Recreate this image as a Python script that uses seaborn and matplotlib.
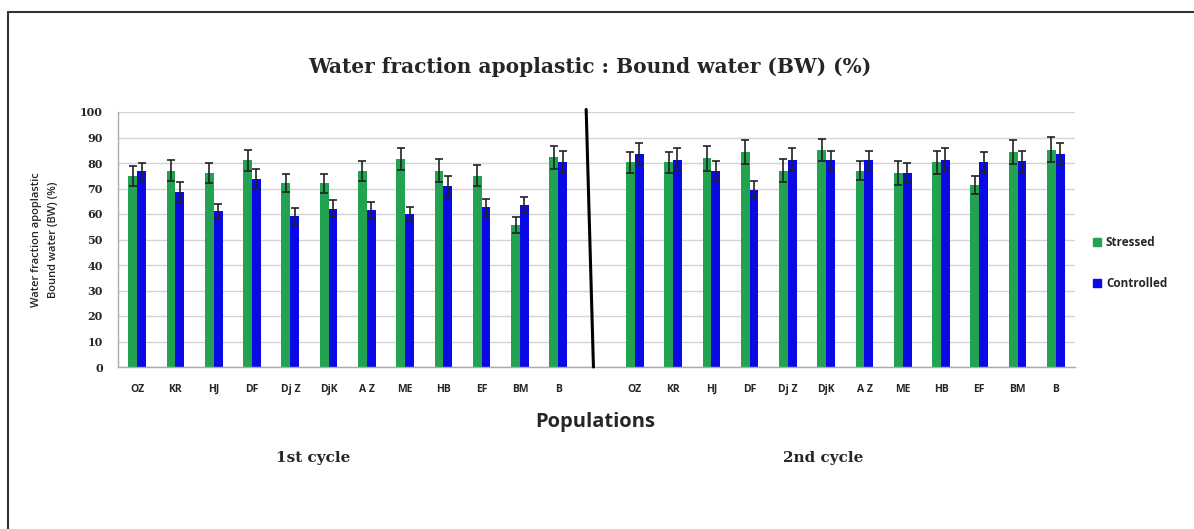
import numpy as np
import pandas as pd
import matplotlib
matplotlib.use("Agg")
import matplotlib.pyplot as plt
import seaborn as sns
from matplotlib.lines import Line2D

# ---------------- data ----------------
populations = ["OZ", "KR", "HJ", "DF", "Dj Z", "DjK", "A Z", "ME", "HB", "EF", "BM", "B"]
cycles = ["1st cycle", "2nd cycle"]
treatments = ["Stressed", "Controlled"]

stressed_c1 = [75, 77, 76, 81, 72.3, 72, 76.7, 81.5, 77, 75, 55.7, 82.3]
stressed_c1_err = [4, 4, 4, 4, 3.5, 3.8, 3.9, 4.2, 4.5, 4.2, 3, 4.5]
controlled_c1 = [76.7, 68.5, 61, 73.7, 59.2, 62, 61.6, 60, 71, 62.6, 63.4, 80.5]
controlled_c1_err = [3.3, 4, 3, 3.8, 3.1, 3.3, 3.3, 2.9, 4, 3.2, 3.2, 4.3]

stressed_c2 = [80.2, 80.2, 81.9, 84.5, 77, 85.2, 77, 76, 80.2, 71.4, 84.5, 85.2]
stressed_c2_err = [4.1, 4.1, 4.9, 4.7, 4.5, 4.3, 3.7, 4.7, 4.7, 3.6, 4.7, 5]
controlled_c2 = [83.6, 81.3, 77, 69.5, 81.3, 81, 81, 76, 81.3, 80.2, 80.7, 83.6]
controlled_c2_err = [4.4, 4.4, 3.7, 3.6, 4.4, 3.9, 3.9, 4, 4.4, 4.1, 4.2, 4.4]

title = "Water fraction apoplastic : Bound water (BW) (%)"
ylabel = "Water fraction apoplastic\nBound water (BW) (%)"
xlabel = "Populations"
yticks = list(range(0, 101, 10))

# ---------------- build table ----------------
gap_key = "gap"
keys1 = [f"c1_{p}" for p in populations]
keys2 = [f"c2_{p}" for p in populations]
order = keys1 + [gap_key] + keys2
tick_labels = populations + [""] + populations

rows = []
for k, s, se, c, ce in zip(keys1, stressed_c1, stressed_c1_err, controlled_c1, controlled_c1_err):
    rows.append((k, "Stressed", s, se))
    rows.append((k, "Controlled", c, ce))
for k, s, se, c, ce in zip(keys2, stressed_c2, stressed_c2_err, controlled_c2, controlled_c2_err):
    rows.append((k, "Stressed", s, se))
    rows.append((k, "Controlled", c, ce))
df = pd.DataFrame(rows, columns=["key", "treatment", "value", "err"])

# ---------------- plot ----------------
sns.set_theme(style="white")
plt.rcParams["font.family"] = ["DejaVu Sans"]

fig = plt.figure(figsize=(11.94, 5.29), dpi=100)
ax = fig.add_axes([118 / 1194, 1 - 367 / 529, (1075 - 118) / 1194, (367 - 112) / 529])

palette = {"Stressed": "#22a352", "Controlled": "#0a0ae6"}
sns.barplot(data=df, x="key", y="value", hue="treatment", order=order,
            hue_order=treatments, palette=palette, width=0.46, errorbar=None,
            saturation=1, ax=ax, legend=False, edgecolor="none")

# error bars positioned from the bar geometry
data_keys = [k for k in order if k != gap_key]
for i, t in enumerate(treatments):
    cont = ax.containers[i]
    sub = df[df.treatment == t].set_index("key")
    bars = [b for b in cont if not np.isnan(b.get_height())]
    for bar, key in zip(bars, data_keys):
        xc = bar.get_x() + bar.get_width() / 2
        ax.errorbar(xc, sub.loc[key, "value"], yerr=sub.loc[key, "err"], fmt="none",
                    ecolor="#222222", elinewidth=1.2, capsize=3, capthick=1.2, zorder=4)

ax.set_xlim(-0.5, len(order) - 0.5)
ax.set_ylim(0, 100)
ax.set_yticks(yticks)
ax.set_yticklabels([str(v) for v in yticks], fontsize=8, fontweight="bold", family="DejaVu Serif")
ax.set_xticks(range(len(order)))
ax.set_xticklabels(tick_labels, fontsize=7.5, fontweight="bold", family="Open Sans",
                   va="baseline")
ax.tick_params(axis="x", length=0, pad=18)
ax.tick_params(axis="y", length=3, color="#999999", pad=8)
ax.set_xticks(np.arange(-0.5, len(order), 1), minor=True)
ax.tick_params(axis="x", which="minor", length=3, color="#bbbbbb")
ax.yaxis.grid(True, color="#d4d4d4", lw=1)
ax.set_axisbelow(True)
for s in ["top", "right"]:
    ax.spines[s].set_visible(False)
for s in ["left", "bottom"]:
    ax.spines[s].set_color("#aaaaaa")
    ax.spines[s].set_linewidth(1)
ax.set_xlabel("")
ax.set_ylabel(ylabel, fontsize=8, fontweight="semibold", family="Open Sans", labelpad=15,
              linespacing=1.7)

# separator between cycles
gap_idx = order.index(gap_key)
ax.plot([gap_idx - 0.27, gap_idx - 0.08], [101, 0], color="black", lw=2.2,
        clip_on=False, zorder=5)

# legend
handles = [Line2D([], [], marker="s", ls="none", markersize=5.5, color=palette[t]) for t in treatments]
fig.legend(handles, treatments, loc="center left", bbox_to_anchor=(1080 / 1194, 1 - 263 / 529),
           frameon=False, prop={"family": "Open Sans", "weight": "bold", "size": 8.5},
           labelspacing=2.4, handletextpad=0.3, handlelength=1)

# texts
fig.text(590 / 1194, 1 - 67 / 529, title, ha="center", va="center", fontsize=14.5,
         fontweight="bold", family="DejaVu Serif")
fig.text(595 / 1194, 1 - 422 / 529, xlabel, ha="center", va="center", fontsize=14.5,
         fontweight="bold", family="Open Sans")
fig.text(313 / 1194, 1 - 458 / 529, cycles[0], ha="center", va="center", fontsize=11,
         fontweight="bold", family="DejaVu Serif")
fig.text(823 / 1194, 1 - 458 / 529, cycles[1], ha="center", va="center", fontsize=11,
         fontweight="bold", family="DejaVu Serif")

# outer frame (left and top edges visible in the reference)
fig.add_artist(Line2D([8 / 1194, 8 / 1194], [0, 1 - 12 / 529], transform=fig.transFigure,
                      color="#333333", lw=1.5))
fig.add_artist(Line2D([8 / 1194, 1], [1 - 12 / 529, 1 - 12 / 529], transform=fig.transFigure,
                      color="#333333", lw=1.5))

fig.savefig("out.png", dpi=100)
